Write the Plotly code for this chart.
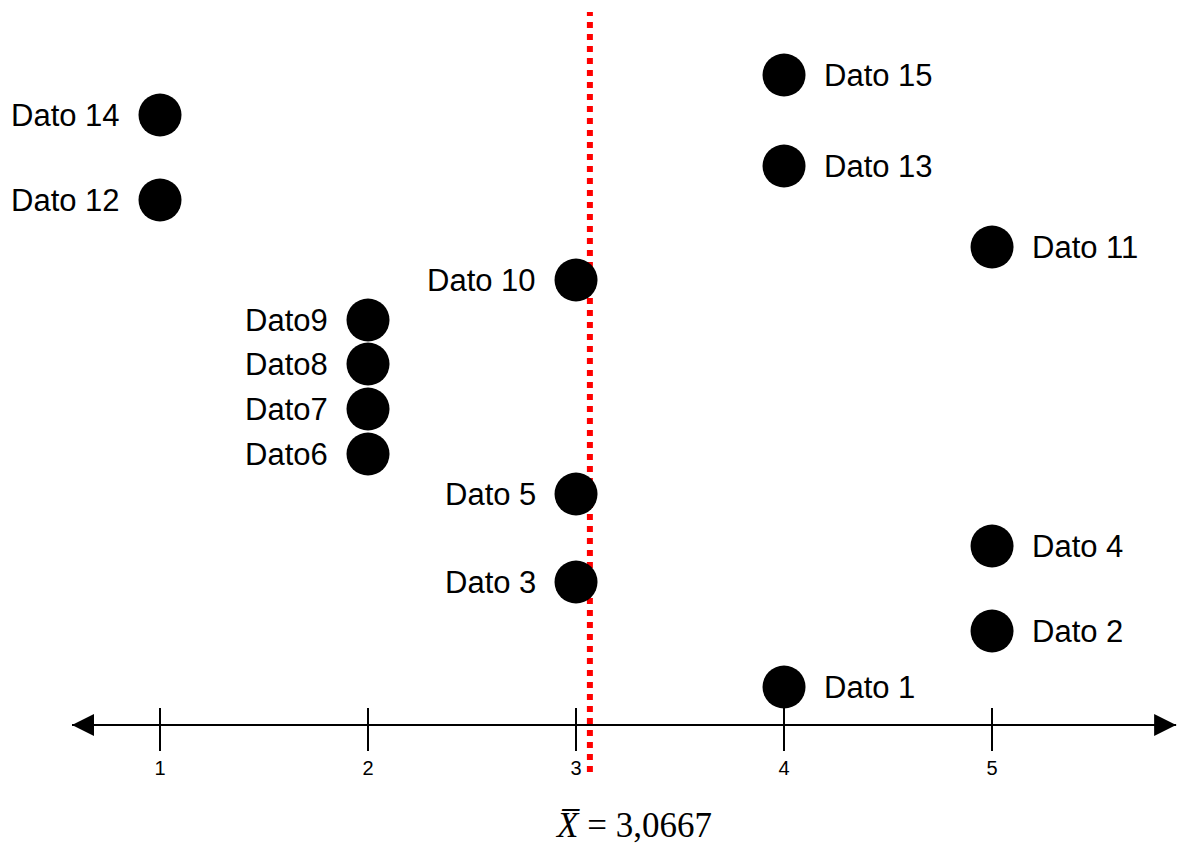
import plotly.graph_objects as go

# Data
labels = ["Dato 1", "Dato 2", "Dato 3", "Dato 4", "Dato 5", "Dato6", "Dato7", "Dato8",
          "Dato9", "Dato 10", "Dato 11", "Dato 12", "Dato 13", "Dato 14", "Dato 15"]
values = [4, 5, 3, 5, 3, 2, 2, 2, 2, 3, 5, 1, 4, 1, 4]
levels = [158, 214, 263, 299, 351, 391, 436, 481, 525, 565, 598, 645, 679, 730, 770]
label_side = ["right", "right", "left", "right", "left", "left", "left", "left",
              "left", "left", "right", "left", "right", "left", "right"]
tick_vals = [1, 2, 3, 4, 5]
tick_text = ["1", "2", "3", "4", "5"]

mean_val = sum(values) / len(values)
mean_text = f"{mean_val:.4f}".replace(".", ",")

fig = go.Figure()

# Mean line (red dotted)
fig.add_trace(go.Scatter(
    x=[mean_val, mean_val], y=[73, 833], mode="lines",
    line=dict(color="#ff0000", width=6, dash="dot"),
    hoverinfo="skip", showlegend=False))

fig.add_trace(go.Scatter(
    x=values, y=levels, mode="markers",
    marker=dict(size=43, color="black"),
    hoverinfo="text", text=labels, showlegend=False))

for lab, xv, yv, side in zip(labels, values, levels, label_side):
    fig.add_annotation(
        x=xv, y=yv, xref="x", yref="y", text=lab, showarrow=False,
        xanchor="right" if side == "left" else "left",
        xshift=-38 if side == "left" else 38, yanchor="middle",
        font=dict(family="Liberation Sans, Arial", size=31, color="black"))

AXIS_Y = 120
x_left_tip = 0.577
x_right_tip = 5.885

# Axis line
fig.add_shape(type="line", x0=x_left_tip, x1=x_right_tip, y0=AXIS_Y, y1=AXIS_Y,
              xref="x", yref="y", line=dict(color="black", width=2), layer="below")
# Arrowheads
for tip, off in [(x_left_tip, 40), (x_right_tip, -40)]:
    fig.add_annotation(x=tip, y=AXIS_Y, ax=off, ay=0, xref="x", yref="y",
                       showarrow=True, arrowhead=2, arrowsize=2.2, arrowwidth=2,
                       arrowcolor="black", text="")

# Mean label
fig.add_annotation(x=0.538, y=20, xref="paper", yref="y", showarrow=False,
                   text="<i>X̅</i> = " + mean_text,
                   font=dict(family="Liberation Serif, Times New Roman", size=35, color="black"))

pos = AXIS_Y / 845
fig.update_layout(
    width=1178, height=845,
    margin=dict(l=0, r=0, t=0, b=0),
    plot_bgcolor="white", paper_bgcolor="white",
    xaxis=dict(range=[0.2308, 5.894], tickvals=tick_vals, ticktext=tick_text,
               ticks="outside", ticklen=25, tickwidth=2, tickcolor="black",
               showgrid=False, zeroline=False, showline=False,
               anchor="free", position=pos,
               tickfont=dict(family="Liberation Sans, Arial", size=20, color="black")),
    xaxis2=dict(range=[0.2308, 5.894], overlaying="x", side="top", matches="x",
                tickvals=tick_vals, ticks="outside", ticklen=17, tickwidth=2,
                tickcolor="black", showticklabels=False, showgrid=False,
                zeroline=False, showline=False, anchor="free", position=pos),
    yaxis=dict(range=[0, 845], visible=False, showgrid=False, zeroline=False),
)
# invisible trace to activate xaxis2
fig.add_trace(go.Scatter(x=[1], y=[0], xaxis="x2", mode="markers",
                         marker=dict(opacity=0), hoverinfo="skip", showlegend=False))

fig.write_html("out.html", config={"displayModeBar": False},
               post_script="document.body.style.margin='0px';")
